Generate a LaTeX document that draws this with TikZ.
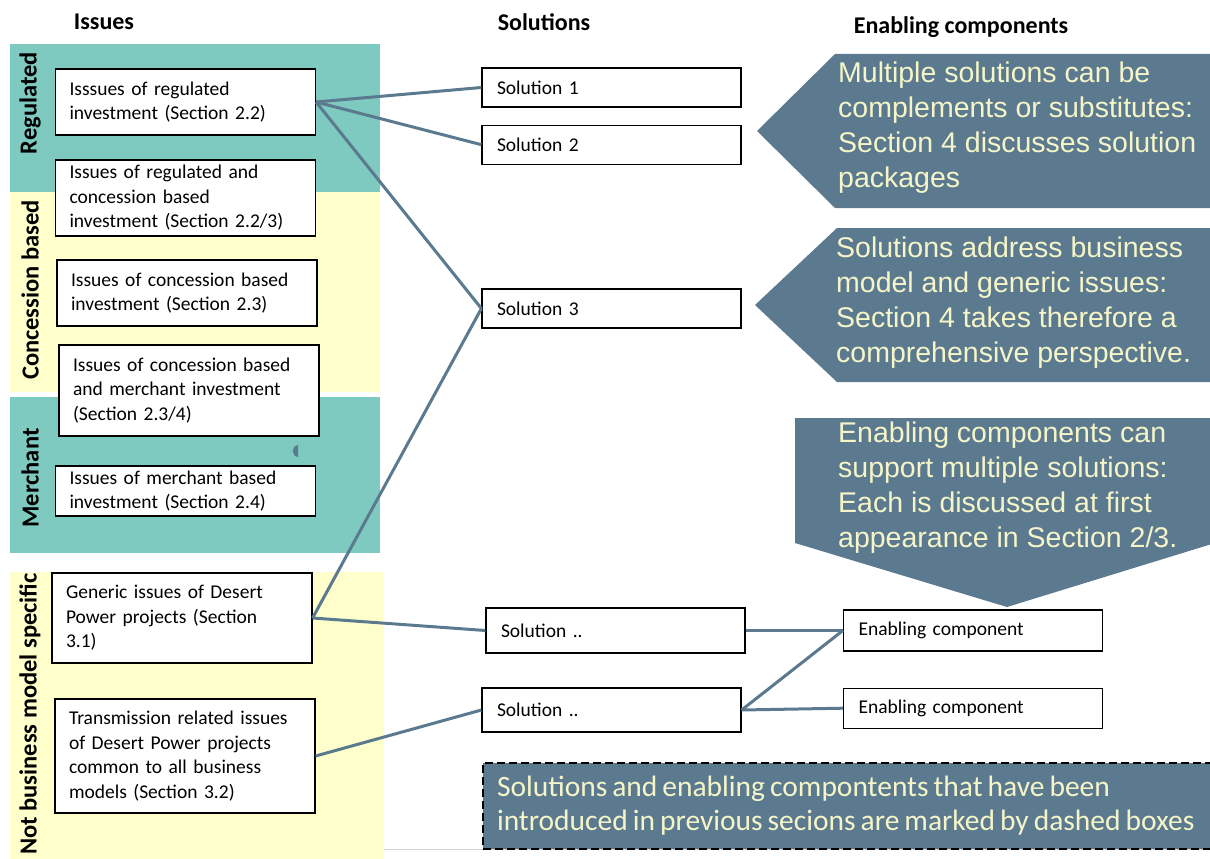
\documentclass[tikz,border=0pt]{standalone}
\usepackage{fontspec}
\setmainfont{Carlito}
\newfontfamily\calloutfont{Liberation Sans}
\usetikzlibrary{positioning}
\definecolor{slate}{RGB}{91,122,143}
\definecolor{bandteal}{RGB}{126,202,192}
\definecolor{bandyellow}{RGB}{255,255,204}
\definecolor{paleyellow}{RGB}{245,245,200}
\newcommand\tightspace{\spaceskip=5pt\relax}

\begin{document}
\begin{tikzpicture}[x=1pt, y=-1pt]
		% styles
		\tikzstyle{issue} = [rectangle, draw, fill=white, line width=1.2pt, text width=232pt, inner xsep=14pt, inner ysep=0pt, align=left, font=\fontsize{19.5}{24.5}\selectfont]
		\tikzstyle{sol} = [rectangle, draw, fill=white, line width=1.2pt, text width=229pt, inner xsep=15pt, inner ysep=0pt, align=left, font=\fontsize{19.5}{22}\selectfont]
		\tikzstyle{band} = [rotate=90, font=\fontsize{24.5}{28}\selectfont\bfseries]
		\tikzstyle{head} = [font=\fontsize{24}{28}\selectfont\bfseries]
		\tikzstyle{link} = [draw=slate, line width=3pt]
		\tikzstyle{calltext} = [anchor=west, inner sep=0pt, text=paleyellow, align=left, font=\calloutfont\fontsize{28.5}{35}\selectfont]
		\useasboundingbox (0,0) rectangle (1210,859);
		
		% column heads
		\node [head] (hissues) at (104,22) {Issues};
		\node [head] (hsol) at (544,22) {Solutions};
		\node [head] (henab) at (961,27) {Enabling components};
		
		% business model bands
		\fill [bandteal] (10,44) rectangle (380,192);
		\fill [bandyellow] (10,192) rectangle (380,392);
		\fill [bandteal] (10,397) rectangle (380,553);
		\fill [bandyellow] (10,572) rectangle (384,859);
		\node [band] (lreg) at (30,103) {Regulated};
		\node [band] (lconc) at (30,290) {Concession based};
		\node [band] (lmerch) at (30,478) {Merchant};
		\node [band] (lnot) at (30,714) {Not business model specific};
		
		% issues
		\node [issue, minimum height=66pt] (regul) at (185.5,102) {Isssues of regulated\\investment (Section 2.2)};
		\node [issue, minimum height=76pt] (regconc) at (185.5,198) {Issues of regulated and\\concession based\\investment (Section 2.2/3)};
		\node [issue, minimum height=66pt] (conc) at (187,293) {Issues of concession based\\investment (Section 2.3)};
		\node [issue, minimum height=91pt] (concmerch) at (189,390.5) {Issues of concession based\\and merchant investment\\(Section 2.3/4)};
		\node [issue, minimum height=50pt] (merch) at (185.5,491) {Issues of merchant based\\investment (Section 2.4)};
		\node [issue, minimum height=90pt] (gener) at (182,618) {Generic issues of Desert\\Power projects (Section\\3.1)};
		\node [issue, minimum height=114pt] (transm) at (185,756) {Transmission related issues\\of Desert Power projects\\common to all business\\models (Section 3.2)};
		\fill [slate] (298,445) .. controls (291,446) and (291,456) .. (298,457) -- cycle;
		
		% solutions and enabling components
		\node [sol, minimum height=39pt] (sol1) at (611.5,87.5) {Solution 1};
		\node [sol, minimum height=39pt, below=17pt of sol1] (sol2) {Solution 2};
		\node [sol, minimum height=39pt] (sol3) at (611.5,308.5) {Solution 3};
		\node [sol, minimum height=45pt] (sola) at (615.5,630.5) {Solution ..};
		\node [sol, minimum height=44pt] (solb) at (611.5,710) {Solution ..};
		\node [sol, minimum height=41pt] (enab1) at (973,630.5) {Enabling component};
		\node [sol, minimum height=40pt, below=36pt of enab1] (enab2) {Enabling component};
		
		% callouts
		\fill [slate] (757,131) -- (835,54) -- (1215,54) -- (1215,208) -- (835,208) -- cycle;
		\node [calltext] (multi) at (838,128) {Multiple solutions can be\\complements or substitutes:\\Section 4 discusses solution\\packages};
		\fill [slate] (755,305) -- (837,228) -- (1215,228) -- (1215,382) -- (837,382) -- cycle;
		\node [calltext] (address) at (836,303) {Solutions address business\\model and generic issues:\\Section 4 takes therefore a\\comprehensive perspective.};
		\fill [slate] (795,418) -- (1215,418) -- (1215,543) -- (1007,607) -- (795,543) -- cycle;
		\node [calltext] (support) at (838,488) {Enabling components can\\support multiple solutions:\\Each is discussed at first\\appearance in Section 2/3.};
		
		% note on dashed boxes
		\draw [gray!35, line width=1pt] (384,849) -- (1210,849);
		\node [draw, dash pattern=on 8pt off 4pt, line width=2pt, fill=slate, anchor=north west, minimum width=726pt, minimum height=86pt, text width=708pt, inner xsep=14pt, align=left, text=paleyellow, font=\fontsize{29.5}{34}\selectfont] (note) at (482,762) {\tightspace Solutions and enabling compontents that have been\\introduced in previous secions are marked by dashed boxes};
		
		% connectors
		\draw [link] (regul.east) -- (sol1.west);
		\draw [link] (regul.east) -- (sol2.west);
		\draw [link] (regul.east) -- (sol3.west);
		\draw [link] (gener.east) -- (sol3.west);
		\draw [link] (gener.east) -- (sola.west);
		\draw [link] (transm.east) -- (solb.west);
		\draw [link] (sola.east) -- (enab1.west);
		\draw [link] (solb.east) -- (enab1.west);
		\draw [link] (solb.east) -- (enab2.west);
\end{tikzpicture}
\end{document}
